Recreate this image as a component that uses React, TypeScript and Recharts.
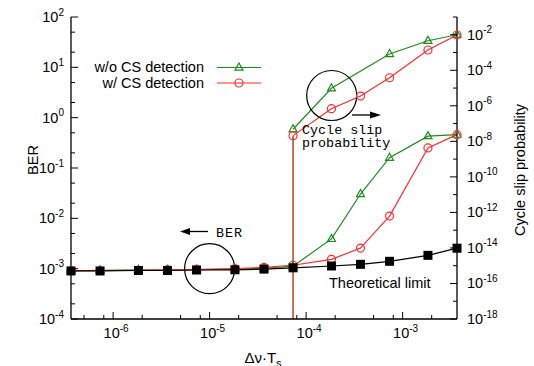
import React from 'react'
import { ComposedChart, Line, XAxis, YAxis, ReferenceLine, ReferenceDot } from 'recharts'

// Δν·Ts sample points (log spaced, 4 decades)
const DNU_TS = [3.66e-7, 7.32e-7, 1.83e-6, 3.66e-6, 7.32e-6, 1.83e-5, 3.66e-5, 7.32e-5, 1.83e-4, 3.66e-4, 7.32e-4, 1.83e-3, 3.66e-3]

// BER (left axis)
const BER_THEORY = [9.0e-4, 9.0e-4, 9.2e-4, 9.2e-4, 9.4e-4, 9.5e-4, 9.8e-4, 1.04e-3, 1.13e-3, 1.22e-3, 1.4e-3, 1.84e-3, 2.55e-3]
const BER_WO_CS = [9.1e-4, 9.3e-4, 9.5e-4, 9.5e-4, 9.6e-4, 9.8e-4, 1.02e-3, 1.12e-3, 3.9e-3, 3.04e-2, 0.16, 0.43, 0.46]
const BER_W_CS = [9.0e-4, 9.1e-4, 9.3e-4, 9.5e-4, 9.6e-4, 1.0e-3, 1.06e-3, 1.17e-3, 1.53e-3, 2.57e-3, 1.11e-2, 0.25, 0.46]

// cycle slip probability (right axis), no slips below 7e-5
const CS_WO = [null, null, null, null, null, null, null, 4.8e-8, 9.7e-6, null, 8.3e-4, 4.6e-3, 1.0e-2]
const CS_W = [null, null, null, null, null, null, null, 2.1e-8, 6.9e-7, 3.56e-6, 3.8e-5, 1.39e-3, 9.7e-3]

const X_MAJOR = [1e-6, 1e-5, 1e-4, 1e-3]
const X_MINOR = [5e-7, 8e-7, 2e-6, 5e-6, 8e-6, 2e-5, 5e-5, 8e-5, 2e-4, 5e-4, 8e-4, 2e-3]
const BER_MAJOR = [1e-4, 1e-3, 1e-2, 1e-1, 1, 10, 100]
const BER_MINOR = [2e-4, 5e-4, 2e-3, 5e-3, 2e-2, 5e-2, 0.2, 0.5, 2, 5, 20, 50]
const CS_MAJOR = [1e-18, 1e-16, 1e-14, 1e-12, 1e-10, 1e-8, 1e-6, 1e-4, 1e-2]
const CS_MINOR = [1e-17, 1e-15, 1e-13, 1e-11, 1e-9, 1e-7, 1e-5, 1e-3, 1e-1]

const W = 534
const H = 366
const PLOT = { left: 71, right: 457, top: 17, bottom: 319 }
const SANS = '"Liberation Sans", Arial, sans-serif'
const MONO = '"Liberation Mono", "Courier New", monospace'
const GREEN = '#1f8a1f'
const RED = '#ff2a2a'
const STEP = '#b8452a'

const rows = DNU_TS.map((x, i) => ({
  x,
  theory: BER_THEORY[i],
  berWo: BER_WO_CS[i],
  berW: BER_W_CS[i],
  csWo: CS_WO[i],
  csW: CS_W[i],
}))

const exp10 = (v: number) => Math.round(Math.log10(v))

function Pow({ x, y, exp, anchor }: any) {
  return (
    <text x={x} y={y} textAnchor={anchor} fontFamily={SANS} fontSize={14.5} fill="#000">
      10<tspan dy={-6.5} fontSize={10}>{exp}</tspan>
    </text>
  )
}

function BottomTick({ x, payload }: any) {
  const major = X_MAJOR.includes(payload.value)
  return (
    <g>
      <line x1={x} x2={x} y1={PLOT.bottom} y2={PLOT.bottom - (major ? 7 : 4)} stroke="#000" />
      {major && <Pow x={x + 3} y={338} exp={exp10(payload.value)} anchor="middle" />}
    </g>
  )
}

function TopTick({ x, payload }: any) {
  const major = X_MAJOR.includes(payload.value)
  return <line x1={x} x2={x} y1={PLOT.top} y2={PLOT.top + (major ? 7 : 4)} stroke="#000" />
}

function LeftTick({ y, payload }: any) {
  const major = BER_MAJOR.includes(payload.value)
  return (
    <g>
      <line x1={PLOT.left} x2={PLOT.left + (major ? 7 : 4)} y1={y} y2={y} stroke="#000" />
      {major && <Pow x={64} y={y + 5} exp={exp10(payload.value)} anchor="end" />}
    </g>
  )
}

function RightTick({ y, payload }: any) {
  const major = CS_MAJOR.includes(payload.value)
  return (
    <g>
      <line x1={PLOT.right} x2={PLOT.right - (major ? 7 : 4)} y1={y} y2={y} stroke="#000" />
      {major && <Pow x={467} y={y + 5} exp={exp10(payload.value)} anchor="start" />}
    </g>
  )
}

const triangle = (color: string) => (p: any) => {
  if (p.cx == null || p.cy == null || p.value == null) return <g key={p.index} />
  const { cx, cy } = p
  return <path key={p.index} d={`M${cx},${cy - 4.5} L${cx + 4},${cy + 2.6} L${cx - 4},${cy + 2.6} Z`}
    fill="none" stroke={color} strokeWidth={1.2} />
}

const circle = (color: string) => (p: any) => {
  if (p.cx == null || p.cy == null || p.value == null) return <g key={p.index} />
  return <circle key={p.index} cx={p.cx} cy={p.cy} r={4} fill="none" stroke={color} strokeWidth={1.2} />
}

const square = (p: any) => {
  if (p.cx == null || p.cy == null) return <g key={p.index} />
  return <rect key={p.index} x={p.cx - 4.5} y={p.cy - 4.5} width={9} height={9} fill="#000" />
}

function Overlay() {
  return (
    <svg width={W} height={H} style={{ position: 'absolute', left: 0, top: 0, pointerEvents: 'none' }}>
      {/* legend */}
      <text x={204} y={72} textAnchor="end" fontFamily={SANS} fontSize={14.5}>w/o CS detection</text>
      <line x1={217} x2={261} y1={67.5} y2={67.5} stroke={GREEN} strokeWidth={1.2} />
      {triangle(GREEN)({ cx: 239, cy: 67.5, value: 1, index: 0 })}
      <text x={204} y={87.5} textAnchor="end" fontFamily={SANS} fontSize={14.5}>w/ CS detection</text>
      <line x1={217} x2={261} y1={83} y2={83} stroke={RED} strokeWidth={1.2} />
      {circle(RED)({ cx: 239, cy: 83, value: 1, index: 0 })}

      {/* annotations */}
      <line x1={352} x2={372} y1={115} y2={115} stroke="#000" strokeWidth={1.3} />
      <polygon points="381,115 370,111.5 370,118.5" fill="#000" />
      <text x={302} y={134} fontFamily={MONO} fontSize={13.4}>Cycle slip</text>
      <text x={302} y={147} fontFamily={MONO} fontSize={13.4}>probability</text>

      <line x1={208} x2={189} y1={231.5} y2={231.5} stroke="#000" strokeWidth={1.3} />
      <polygon points="180,231.5 190,228 190,235" fill="#000" />
      <text x={216} y={236.5} fontFamily={MONO} fontSize={13.4} letterSpacing={1}>BER</text>

      <text x={329} y={287.5} fontFamily={SANS} fontSize={14.5}>Theoretical limit</text>

      {/* axis titles */}
      <text x={38} y={160} transform="rotate(-90 38 160)" textAnchor="middle" fontFamily={SANS} fontSize={14.5}>BER</text>
      <text x={525} y={170} transform="rotate(-90 525 170)" textAnchor="middle" fontFamily={SANS} fontSize={14.5}>Cycle slip probability</text>
      <text x={263} y={363} textAnchor="middle" fontFamily={SANS} fontSize={15}>
        Δν·T<tspan dy={4} fontSize={11}>s</tspan>
      </text>
    </svg>
  )
}

export default function App() {
  return (
    <div style={{ position: 'absolute', left: 0, top: 0, width: W, height: H, background: '#fff' }}>
      <ComposedChart width={W} height={H} data={rows} margin={{ top: PLOT.top, right: 0, bottom: 0, left: 0 }}>
        <XAxis xAxisId="bottom" dataKey="x" type="number" scale="log" domain={[DNU_TS[0], DNU_TS[DNU_TS.length - 1]]}
          ticks={[...X_MAJOR, ...X_MINOR]} interval={0} height={H - PLOT.bottom} tickLine={false}
          axisLine={{ stroke: '#000', strokeWidth: 1.3 }} tick={<BottomTick />} />
        <XAxis xAxisId="top" orientation="top" dataKey="x" type="number" scale="log"
          domain={[DNU_TS[0], DNU_TS[DNU_TS.length - 1]]} ticks={[...X_MAJOR, ...X_MINOR]} interval={0} height={0}
          tickLine={false} axisLine={{ stroke: '#000', strokeWidth: 1.3 }} tick={<TopTick />} />
        <YAxis yAxisId="left" type="number" scale="log" domain={[1e-4, 100]} ticks={[...BER_MAJOR, ...BER_MINOR]}
          interval={0} width={PLOT.left} tickLine={false} axisLine={{ stroke: '#000', strokeWidth: 1.3 }} tick={<LeftTick />} />
        <YAxis yAxisId="right" orientation="right" type="number" scale="log" domain={[1e-18, 1e-1]}
          ticks={[...CS_MAJOR, ...CS_MINOR]} interval={0} width={W - PLOT.right} tickLine={false}
          axisLine={{ stroke: '#000', strokeWidth: 1.3 }} tick={<RightTick />} />

        <ReferenceLine xAxisId="bottom" yAxisId="right" stroke={STEP} strokeWidth={1.5}
          segment={[{ x: DNU_TS[7], y: 1e-18 }, { x: DNU_TS[7], y: CS_W[7] as number }]} />
        <ReferenceDot xAxisId="bottom" yAxisId="left" x={1e-5} y={1e-3} r={25} fill="none" stroke="#000" strokeWidth={1.2} />
        <ReferenceDot xAxisId="bottom" yAxisId="right" x={1.84e-4} y={3.8e-6} r={25} fill="none" stroke="#000" strokeWidth={1.2} />

        <Line xAxisId="bottom" yAxisId="right" dataKey="csWo" stroke={GREEN} strokeWidth={1.2} connectNulls
          dot={triangle(GREEN)} isAnimationActive={false} />
        <Line xAxisId="bottom" yAxisId="right" dataKey="csW" stroke={RED} strokeWidth={1.2}
          dot={circle(RED)} isAnimationActive={false} />
        <Line xAxisId="bottom" yAxisId="left" dataKey="berWo" stroke={GREEN} strokeWidth={1.2}
          dot={triangle(GREEN)} isAnimationActive={false} />
        <Line xAxisId="bottom" yAxisId="left" dataKey="berW" stroke={RED} strokeWidth={1.2}
          dot={circle(RED)} isAnimationActive={false} />
        <Line xAxisId="bottom" yAxisId="left" dataKey="theory" stroke="#000" strokeWidth={1.2}
          dot={square} isAnimationActive={false} />
      </ComposedChart>
      <Overlay />
    </div>
  )
}
